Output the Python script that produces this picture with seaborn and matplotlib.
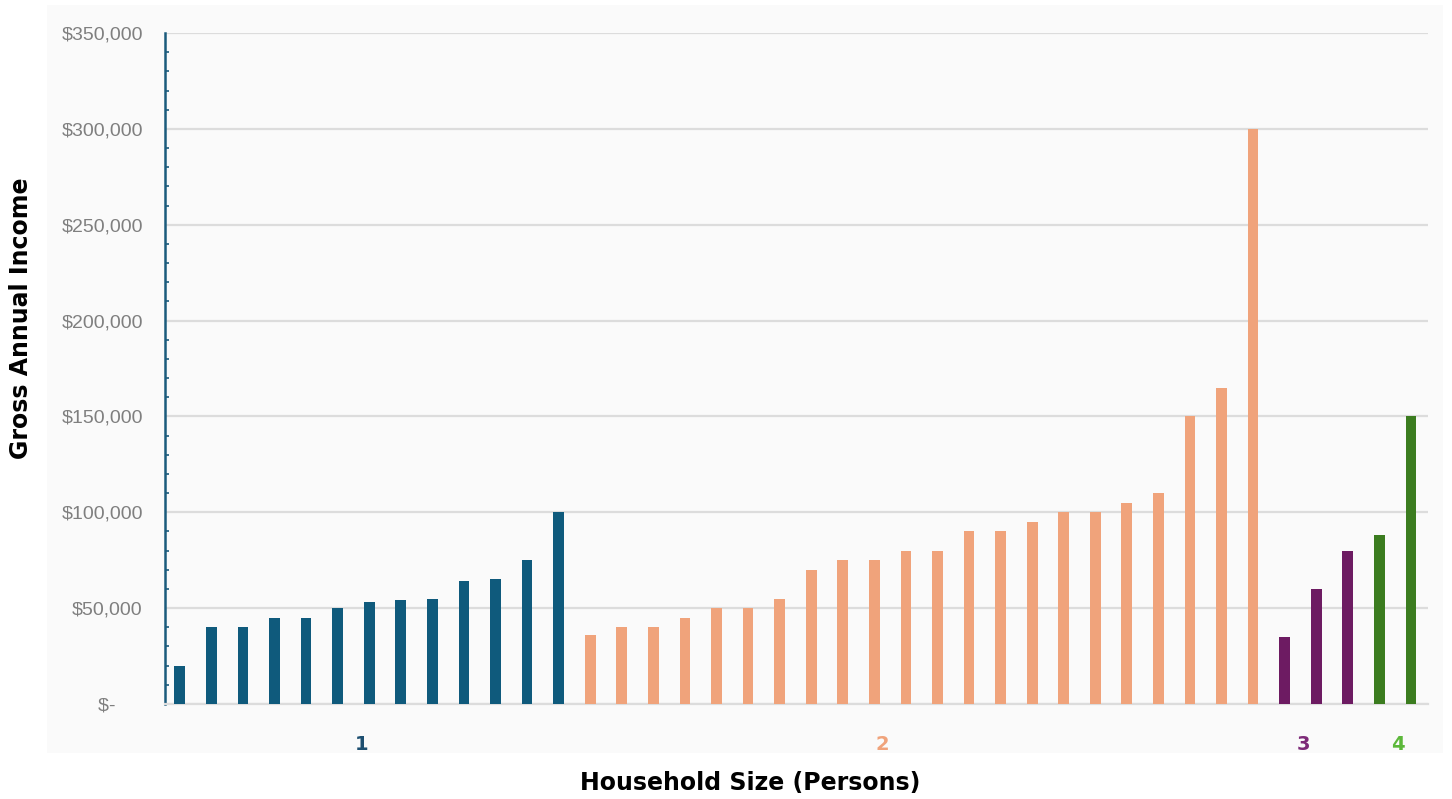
"""Gross annual income by household size, one bar per household."""

import matplotlib.pyplot as plt
import pandas as pd
import seaborn as sns
from matplotlib.patches import Rectangle
from matplotlib.ticker import AutoMinorLocator, FuncFormatter

size_1_incomes = [20000, 40000, 40000, 45000, 45000, 50000, 53000, 54000,
                  55000, 64000, 65000, 75000, 100000]
size_2_incomes = [36000, 40000, 40000, 45000, 50000, 50000, 55000, 70000,
                  75000, 75000, 80000, 80000, 90000, 90000, 95000, 100000,
                  100000, 105000, 110000, 150000, 165000, 300000]
size_3_incomes = [35000, 60000, 80000]
size_4_incomes = [88000, 150000]
household_sizes = ["1", "2", "3", "4"]

bar_colors = ["#0f5a7c", "#f0a37b", "#6d1b62", "#3b7c1f"]
label_colors = ["#1d4f70", "#f0a37b", "#7d2a78", "#5cb83a"]
label_positions = [5.75, 22.25, 35.6, 38.6]

rows = []
for size, incomes in zip(household_sizes,
                         [size_1_incomes, size_2_incomes, size_3_incomes, size_4_incomes]):
    for income in incomes:
        rows.append({"size": size, "income": income})
df = pd.DataFrame(rows)
df["pos"] = range(len(df))

sns.set_theme(style="white")

fig = plt.figure(figsize=(14.52, 7.99), dpi=100)
fig.patches.append(Rectangle((47 / 1452, 1 - 753 / 799), 1396 / 1452, 748 / 799,
                             transform=fig.transFigure, facecolor="#fafafa",
                             edgecolor="none", zorder=-5))
ax = fig.add_axes([165 / 1452, 1 - 704 / 799, 1263 / 1452, 671 / 799])
ax.set_facecolor("none")

sns.barplot(data=df, x="pos", y="income", hue="size", order=range(len(df)),
            palette=dict(zip(household_sizes, bar_colors)), dodge=False,
            saturation=1, width=0.34, linewidth=0, errorbar=None,
            legend=False, ax=ax, zorder=3)

ax.set_xlim(-0.47, len(df) - 0.46)
ax.set_ylim(0, 350000)
ax.set_yticks(range(0, 350001, 50000))
ax.yaxis.set_minor_locator(AutoMinorLocator(5))
ax.yaxis.set_major_formatter(FuncFormatter(
    lambda v, _: "$-     " if v == 0 else f"${v:,.0f}"))
ax.grid(axis="y", color="#dcdcdc", linewidth=1.6, zorder=0)
ax.set_axisbelow(True)

ax.set_xticks(label_positions)
ax.set_xticklabels(household_sizes)
for tick, color in zip(ax.get_xticklabels(), label_colors):
    tick.set_color(color)
    tick.set_fontweight("bold")
    tick.set_fontsize(14)
    tick.set_family("DejaVu Sans")
ax.tick_params(axis="x", length=0, pad=22)

ax.tick_params(axis="y", which="both", direction="in", color="#1b5b7c",
               width=1.2, labelcolor="#7f7f7f", labelsize=14, pad=16)
ax.tick_params(axis="y", which="major", length=3)
ax.tick_params(axis="y", which="minor", length=3, left=True)
for label in ax.get_yticklabels():
    label.set_family("Liberation Sans")

for side in ["top", "right"]:
    ax.spines[side].set_visible(False)
ax.spines["left"].set_color("#1b5b7c")
ax.spines["left"].set_linewidth(1.8)
ax.spines["bottom"].set_color("#dcdcdc")
ax.spines["bottom"].set_linewidth(1.6)
ax.set_xlabel("")
ax.set_ylabel("")

fig.text(21 / 1452, 1 - 318 / 799, "Gross Annual Income", rotation=90,
         ha="center", va="center", fontsize=17, fontweight="bold",
         family="DejaVu Sans", color="black")
fig.text(750 / 1452, 1 - 783 / 799, "Household Size (Persons)",
         ha="center", va="center", fontsize=17, fontweight="bold",
         family="DejaVu Sans", color="black")

fig.savefig("out.png", dpi=100)
